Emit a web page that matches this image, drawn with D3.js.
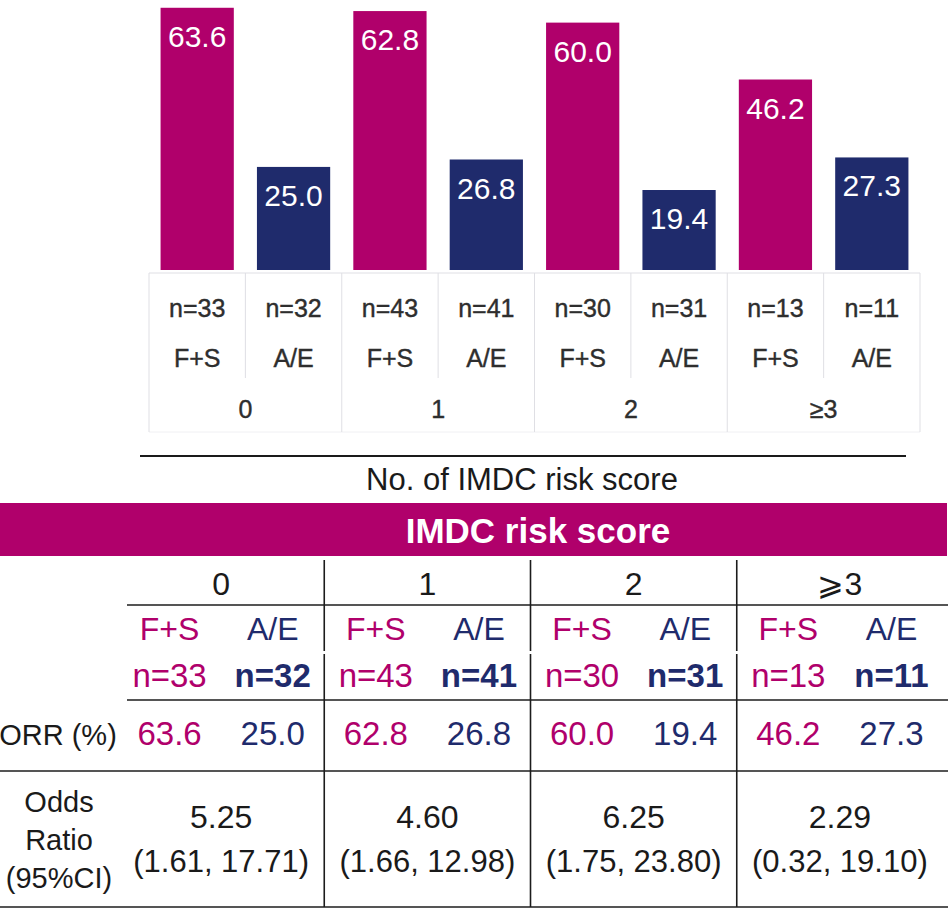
<!DOCTYPE html>
<html>
<head>
<meta charset="utf-8">
<script src="https://cdn.jsdelivr.net/npm/d3@7"></script>
<style>
  body { margin: 0; background: #fff; }
  text { font-family: "Liberation Sans", Arial, sans-serif; }
</style>
</head>
<body>
<div id="chart"></div>
<script>
// values
const groups = ["0", "1", "2", "≥3"];
const groupsTable = ["0", "1", "2", "⩾3"];
const arms = ["F+S", "A/E"];
const orrFS = [63.6, 62.8, 60.0, 46.2];
const orrAE = [25.0, 26.8, 19.4, 27.3];
const nFS = [33, 43, 30, 13];
const nAE = [32, 41, 31, 11];
const oddsRatio = [5.25, 4.60, 6.25, 2.29];
const ciLow = [1.61, 1.66, 1.75, 0.32];
const ciHigh = [17.71, 12.98, 23.80, 19.10];

const W = 950, H = 914;
const magenta = "#b0006b";
const navy = "#1f2b6c";
const armColor = [magenta, navy];
const f1 = d3.format(".1f");
const f2 = d3.format(".2f");

const svg = d3.select("#chart").append("svg")
    .attr("width", W)
    .attr("height", H);

const slots = groups.flatMap((g, gi) => arms.map((a, ai) => ({
    key: g + "|" + a,
    g, gi, arm: a, ai,
    value: ai === 0 ? orrFS[gi] : orrAE[gi],
    n: ai === 0 ? nFS[gi] : nAE[gi]
})));

// ---- bar chart ----
const xSlot = d3.scaleBand()
    .domain(slots.map(d => d.key))
    .range([149, 920]);

const xBar = d3.scaleBand()
    .domain(slots.map(d => d.key))
    .range([149, 920])
    .paddingInner(0.24)
    .paddingOuter(0.12);

const xGroup = d3.scaleBand()
    .domain(groups)
    .range([149, 920]);

const y = d3.scaleLinear()
    .domain([0, 65])
    .range([270, 2]);

svg.selectAll(".bar")
    .data(slots)
    .enter()
    .append("rect")
    .attr("class", "bar")
    .attr("x", d => xBar(d.key))
    .attr("y", d => y(d.value))
    .attr("width", xBar.bandwidth())
    .attr("height", d => y(0) - y(d.value))
    .attr("fill", d => armColor[d.ai]);

svg.selectAll(".bar-label")
    .data(slots)
    .enter()
    .append("text")
    .attr("class", "bar-label")
    .attr("x", d => xBar(d.key) + xBar.bandwidth() / 2)
    .attr("y", d => y(d.value) + 39)
    .attr("text-anchor", "middle")
    .style("fill", "#fff")
    .style("font-size", "30px")
    .text(d => f1(d.value));

// category table under the bars
const gridColor = "#dfdfe4";
const tableTop = 273;
const catText = "#2e2e2e";

svg.append("line")
    .attr("x1", 149).attr("x2", 920)
    .attr("y1", tableTop).attr("y2", tableTop)
    .attr("stroke", gridColor);

svg.append("line")
    .attr("x1", 149).attr("x2", 920)
    .attr("y1", 432).attr("y2", 432)
    .attr("stroke", "#f0f0f3");

svg.selectAll(".slot-line")
    .data(slots)
    .enter()
    .append("line")
    .attr("class", "slot-line")
    .attr("x1", d => xSlot(d.key))
    .attr("x2", d => xSlot(d.key))
    .attr("y1", tableTop)
    .attr("y2", d => d.ai === 0 ? 432 : 378)
    .attr("stroke", gridColor);

svg.append("line")
    .attr("x1", 920).attr("x2", 920)
    .attr("y1", tableTop).attr("y2", 432)
    .attr("stroke", gridColor);

svg.selectAll(".n-label")
    .data(slots)
    .enter()
    .append("text")
    .attr("class", "n-label")
    .attr("x", d => xSlot(d.key) + xSlot.bandwidth() / 2)
    .attr("y", 317)
    .attr("text-anchor", "middle")
    .style("fill", catText)
    .style("font-size", "25px")
    .style("stroke", catText)
    .style("stroke-width", 0.4)
    .text(d => "n=" + d.n);

svg.selectAll(".arm-label")
    .data(slots)
    .enter()
    .append("text")
    .attr("class", "arm-label")
    .attr("x", d => xSlot(d.key) + xSlot.bandwidth() / 2)
    .attr("y", 367)
    .attr("text-anchor", "middle")
    .style("fill", catText)
    .style("font-size", "25px")
    .style("stroke", catText)
    .style("stroke-width", 0.4)
    .text(d => d.arm);

svg.selectAll(".group-label")
    .data(groups)
    .enter()
    .append("text")
    .attr("class", "group-label")
    .attr("x", d => xGroup(d) + xGroup.bandwidth() / 2)
    .attr("y", 418)
    .attr("text-anchor", "middle")
    .style("fill", catText)
    .style("font-size", "25px")
    .style("stroke", catText)
    .style("stroke-width", 0.4)
    .text(d => d);

svg.append("line")
    .attr("x1", 140).attr("x2", 906)
    .attr("y1", 456).attr("y2", 456)
    .attr("stroke", "#1a1a1a")
    .attr("stroke-width", 2);

svg.append("text")
    .attr("x", 522)
    .attr("y", 490)
    .attr("text-anchor", "middle")
    .style("fill", "#1a1a1a")
    .style("font-size", "31px")
    .text("No. of IMDC risk score");

// ---- summary table ----
svg.append("rect")
    .attr("x", 0).attr("y", 503)
    .attr("width", 947).attr("height", 53)
    .attr("fill", magenta);

svg.append("text")
    .attr("x", 538)
    .attr("y", 543)
    .attr("text-anchor", "middle")
    .style("fill", "#fff")
    .style("font-size", "35px")
    .style("font-weight", "bold")
    .text("IMDC risk score");

const xG2 = d3.scaleBand()
    .domain(groups)
    .range([118, 943]);

const xArm = d3.scaleBand()
    .domain(arms)
    .range([0, xG2.bandwidth()]);

const lineColor = "#1c1c1c";
const hLines = [
    { y: 605, x1: 127 },
    { y: 700, x1: 127 },
    { y: 771, x1: 0 },
    { y: 907, x1: 0 }
];
svg.selectAll(".h-line")
    .data(hLines)
    .enter()
    .append("line")
    .attr("class", "h-line")
    .attr("x1", d => d.x1).attr("x2", 948)
    .attr("y1", d => d.y).attr("y2", d => d.y)
    .attr("stroke", lineColor)
    .attr("stroke-width", 1.6);

const vSegs = groups.slice(1).flatMap(g => [[560, 651], [654, 907]].map(s => ({ g, s })));
svg.selectAll(".v-line")
    .data(vSegs)
    .enter()
    .append("line")
    .attr("class", "v-line")
    .attr("x1", d => xG2(d.g)).attr("x2", d => xG2(d.g))
    .attr("y1", d => d.s[0]).attr("y2", d => d.s[1])
    .attr("stroke", lineColor)
    .attr("stroke-width", 1.6);

svg.selectAll(".tg-label")
    .data(groups)
    .enter()
    .append("text")
    .attr("class", "tg-label")
    .attr("x", d => xG2(d) + xG2.bandwidth() / 2)
    .attr("y", 595)
    .attr("text-anchor", "middle")
    .style("fill", "#1a1a1a")
    .style("font-size", "32px")
    .text((d, i) => groupsTable[i]);

const cellX = d => xG2(d.g) + xArm(d.arm) + xArm.bandwidth() / 2;

svg.selectAll(".t-arm")
    .data(slots)
    .enter()
    .append("text")
    .attr("class", "t-arm")
    .attr("x", cellX)
    .attr("y", 640)
    .attr("text-anchor", "middle")
    .style("fill", d => armColor[d.ai])
    .style("font-size", "32px")
    .text(d => d.arm);

svg.selectAll(".t-n")
    .data(slots)
    .enter()
    .append("text")
    .attr("class", "t-n")
    .attr("x", cellX)
    .attr("y", 687)
    .attr("text-anchor", "middle")
    .style("fill", d => armColor[d.ai])
    .style("font-size", "33px")
    .style("font-weight", d => d.ai === 1 ? "bold" : "normal")
    .text(d => "n=" + d.n);

svg.selectAll(".t-orr")
    .data(slots)
    .enter()
    .append("text")
    .attr("class", "t-orr")
    .attr("x", cellX)
    .attr("y", 745)
    .attr("text-anchor", "middle")
    .style("fill", d => armColor[d.ai])
    .style("font-size", "33px")
    .text(d => f1(d.value));

svg.append("text")
    .attr("x", 58)
    .attr("y", 745)
    .attr("text-anchor", "middle")
    .style("fill", "#1a1a1a")
    .style("font-size", "29px")
    .text("ORR (%)");

svg.selectAll(".odds-label")
    .data(["Odds", "Ratio", "(95%CI)"])
    .enter()
    .append("text")
    .attr("class", "odds-label")
    .attr("x", 59)
    .attr("y", (d, i) => 812 + i * 38)
    .attr("text-anchor", "middle")
    .style("fill", "#1a1a1a")
    .style("font-size", "29px")
    .text(d => d);

svg.selectAll(".t-or")
    .data(groups)
    .enter()
    .append("text")
    .attr("class", "t-or")
    .attr("x", d => xG2(d) + xG2.bandwidth() / 2)
    .attr("y", 828)
    .attr("text-anchor", "middle")
    .style("fill", "#1a1a1a")
    .style("font-size", "32px")
    .text((d, i) => f2(oddsRatio[i]));

svg.selectAll(".t-ci")
    .data(groups)
    .enter()
    .append("text")
    .attr("class", "t-ci")
    .attr("x", d => xG2(d) + xG2.bandwidth() / 2)
    .attr("y", 872)
    .attr("text-anchor", "middle")
    .style("fill", "#1a1a1a")
    .style("font-size", "31px")
    .text((d, i) => `(${f2(ciLow[i])}, ${f2(ciHigh[i])})`);
</script>
</body>
</html>
